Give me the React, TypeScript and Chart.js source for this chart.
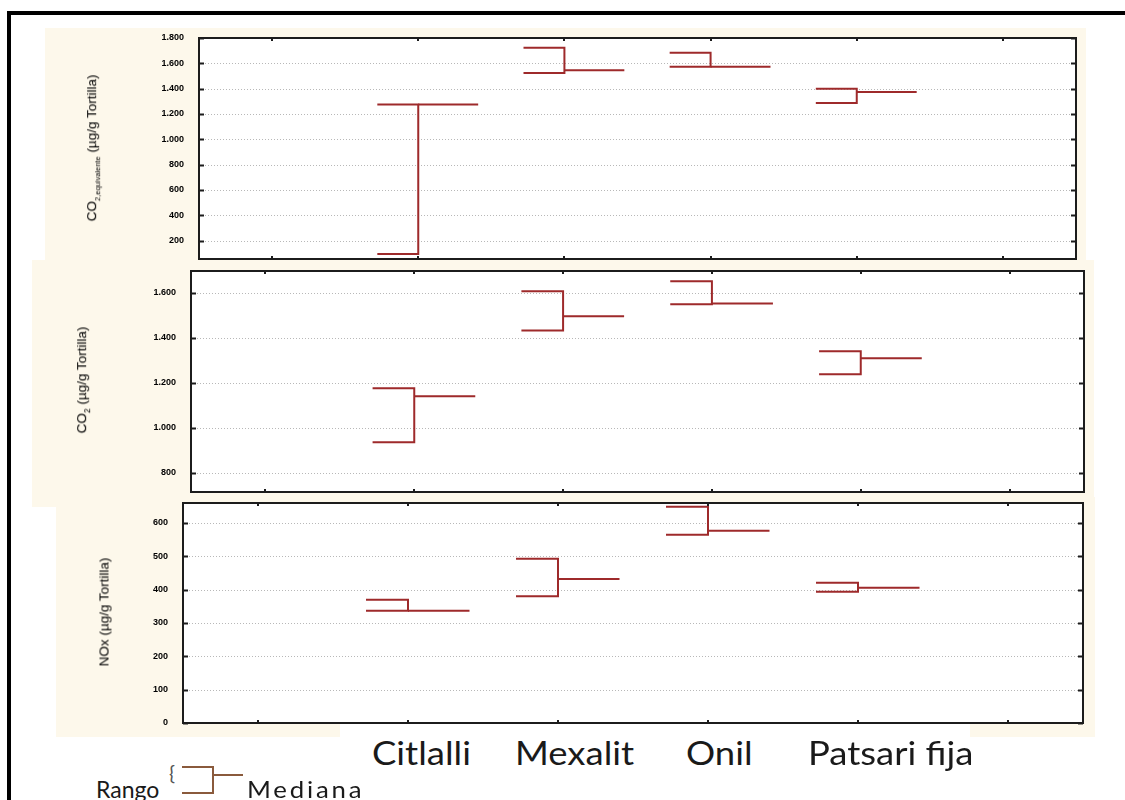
import React, { useEffect, useRef } from "react";
import { Chart, registerables } from "chart.js";

Chart.register(...registerables);

// Category slots along the x axis (first and last are empty, as in the source)
const slots = ["", "Citlalli", "Mexalit", "Onil", "Patsari fija", ""];
const groups = ["Citlalli", "Mexalit", "Onil", "Patsari fija"];

// Panel 1: CO2 equivalente (µg/g Tortilla)
const co2eqMin = [95, 1523, 1573, 1287];
const co2eqMax = [1274, 1723, 1683, 1400];
const co2eqMed = [1274, 1546, 1573, 1373];
const co2eqTicks = [200, 400, 600, 800, 1000, 1200, 1400, 1600, 1800];

// Panel 2: CO2 (µg/g Tortilla)
const co2Min = [935, 1432, 1548, 1237];
const co2Max = [1175, 1606, 1650, 1339];
const co2Med = [1139, 1495, 1552, 1308];
const co2Ticks = [800, 1000, 1200, 1400, 1600];

// Panel 3: NOx (µg/g Tortilla)
const noxMin = [337, 380, 565, 394];
const noxMax = [370, 493, 649, 421];
const noxMed = [337, 432, 577, 406];
const noxTicks = [0, 100, 200, 300, 400, 500, 600];

const RED = "#9e2a2b";
const RANGE_W = 0.28;
const MED_W = 0.41;

function fmt(v: number): string {
  if (v >= 1000) {
    return Math.floor(v / 1000) + "." + String(v % 1000).padStart(3, "0");
  }
  return String(v);
}

type PanelProps = {
  mins: number[];
  maxs: number[];
  meds: number[];
  ticks: number[];
  yMin: number;
  yMax: number;
  box: { l: number; t: number; w: number; h: number };
  axisW: number;
  pad: { top: number; right: number; bottom: number };
};

function Panel(p: PanelProps) {
  const ref = useRef<HTMLCanvasElement | null>(null);
  useEffect(() => {
    if (!ref.current) return;
    const rangePts: any[] = [];
    const medPts: any[] = [];
    groups.forEach((g, i) => {
      const x = slots.indexOf(g);
      rangePts.push(
        { x: x - RANGE_W, y: p.maxs[i] },
        { x, y: p.maxs[i] },
        { x, y: p.mins[i] },
        { x: x - RANGE_W, y: p.mins[i] },
        { x, y: null }
      );
      medPts.push({ x, y: p.meds[i] }, { x: x + MED_W, y: p.meds[i] }, { x, y: null });
    });

    const frame = {
      id: "frame",
      beforeDatasetsDraw(chart: any) {
        const { ctx, chartArea } = chart;
        const { left, right, top, bottom } = chartArea;
        const ys = chart.scales.y;
        ctx.save();
        ctx.fillStyle = "#ffffff";
        ctx.fillRect(left, top, right - left, bottom - top);
        ctx.strokeStyle = "#b8b8b8";
        ctx.lineWidth = 1;
        ctx.setLineDash([1, 2]);
        p.ticks.forEach((v) => {
          const py = Math.round(ys.getPixelForValue(v)) + 0.5;
          ctx.beginPath();
          ctx.moveTo(left, py);
          ctx.lineTo(right, py);
          ctx.stroke();
        });
        ctx.restore();
      },
      afterDraw(chart: any) {
        const { ctx, chartArea } = chart;
        const { left, right, top, bottom } = chartArea;
        const ys = chart.scales.y;
        const xs = chart.scales.x;
        ctx.save();
        ctx.setLineDash([]);
        ctx.strokeStyle = "#1c1c1c";
        ctx.lineWidth = 2;
        ctx.strokeRect(left, top, right - left, bottom - top);
        p.ticks.forEach((v) => {
          const py = Math.round(ys.getPixelForValue(v)) + 0.5;
          ctx.beginPath();
          ctx.moveTo(left, py);
          ctx.lineTo(left + 5, py);
          ctx.moveTo(right - 5, py);
          ctx.lineTo(right, py);
          ctx.stroke();
        });
        ctx.fillStyle = "#1c1c1c";
        slots.forEach((_, i) => {
          const px = Math.round(xs.getPixelForValue(i));
          ctx.fillRect(px - 1, top + 1, 2, 2);
          ctx.fillRect(px - 1, bottom - 3, 2, 2);
        });
        ctx.restore();
      },
    };

    const chart = new Chart(ref.current, {
      type: "line",
      data: {
        datasets: [
          {
            label: "Rango",
            data: rangePts,
            borderColor: RED,
            borderWidth: 2,
            pointRadius: 0,
            fill: false,
            tension: 0,
            spanGaps: false,
          },
          {
            label: "Mediana",
            data: medPts,
            borderColor: RED,
            borderWidth: 2,
            pointRadius: 0,
            fill: false,
            tension: 0,
            spanGaps: false,
          },
        ],
      },
      options: {
        animation: false,
        responsive: false,
        devicePixelRatio: 1,
        layout: { padding: { left: 0, top: p.pad.top, right: p.pad.right, bottom: p.pad.bottom } },
        plugins: { legend: { display: false }, tooltip: { enabled: false }, title: { display: false } },
        scales: {
          x: { type: "linear", min: -0.5, max: slots.length - 0.5, display: false },
          y: {
            type: "linear",
            min: p.yMin,
            max: p.yMax,
            afterBuildTicks: (s: any) => {
              s.ticks = p.ticks.map((v) => ({ value: v }));
            },
            afterFit: (s: any) => {
              s.width = p.axisW;
            },
            grid: {
              display: true,
              drawOnChartArea: false,
              drawTicks: true,
              tickLength: 15,
              tickColor: "rgba(0,0,0,0)",
              color: "rgba(0,0,0,0)",
            },
            border: { display: false },
            ticks: {
              callback: (v: any) => fmt(Number(v)),
              font: { family: "Liberation Sans", size: 9, weight: "bold" },
              color: "#000",
              padding: 0,
              autoSkip: false,
            },
          },
        },
      },
      plugins: [frame],
    } as any);
    return () => chart.destroy();
  }, []);
  return (
    <div
      style={{
        position: "absolute",
        left: p.box.l,
        top: p.box.t,
        width: p.box.w,
        height: p.box.h,
        background: "#fdf8eb",
      }}
    >
      <canvas ref={ref} width={p.box.w} height={p.box.h} style={{ display: "block" }} />
    </div>
  );
}

function YTitle({ cx, cy, children }: { cx: number; cy: number; children: any }) {
  return (
    <div
      style={{
        position: "absolute",
        left: cx,
        top: cy,
        transform: "translate(-50%, -50%) rotate(-90deg)",
        whiteSpace: "nowrap",
        fontFamily: "Liberation Sans, Arial, sans-serif",
        fontSize: 13.5,
        color: "#000",
      }}
    >
      {children}
    </div>
  );
}

const labelFont = "Lato, 'Open Sans', sans-serif";

export default function App() {
  const catLabels = [
    { t: "Citlalli", x: 372 },
    { t: "Mexalit", x: 515 },
    { t: "Onil", x: 686 },
    { t: "Patsari fija", x: 808 },
  ];
  return (
    <div
      style={{
        position: "absolute",
        left: 0,
        top: 0,
        width: 1125,
        height: 800,
        overflow: "hidden",
        background: "#fff",
      }}
    >
      <div
        style={{
          position: "absolute",
          left: 7,
          top: 11,
          width: 1200,
          height: 900,
          borderLeft: "4px solid #000",
          borderTop: "4px solid #000",
        }}
      />
      <Panel
        mins={co2eqMin}
        maxs={co2eqMax}
        meds={co2eqMed}
        ticks={co2eqTicks}
        yMin={55}
        yMax={1800}
        box={{ l: 45, t: 28, w: 1041, h: 240 }}
        axisW={154}
        pad={{ top: 10, right: 10, bottom: 9 }}
      />
      <YTitle cx={93} cy={148}>
        CO<sub style={{ fontSize: 7.5 }}>2,equivalente</sub> (µg/g Tortilla)
      </YTitle>
      <Panel
        mins={co2Min}
        maxs={co2Max}
        meds={co2Med}
        ticks={co2Ticks}
        yMin={714}
        yMax={1696}
        box={{ l: 32, t: 260, w: 1062, h: 247 }}
        axisW={159}
        pad={{ top: 11, right: 10, bottom: 15 }}
      />
      <YTitle cx={83} cy={380}>
        CO<sub style={{ fontSize: 8.5 }}>2</sub> (µg/g Tortilla)
      </YTitle>
      <Panel
        mins={noxMin}
        maxs={noxMax}
        meds={noxMed}
        ticks={noxTicks}
        yMin={0}
        yMax={660}
        box={{ l: 56, t: 497, w: 1039, h: 240 }}
        axisW={127}
        pad={{ top: 6, right: 12, bottom: 14 }}
      />
      <YTitle cx={104} cy={612}>
        NOx (µg/g Tortilla)
      </YTitle>
      <div style={{ position: "absolute", left: 340, top: 724, width: 630, height: 60, background: "#fff" }} />
      {catLabels.map((c) => (
        <div
          key={c.t}
          style={{
            position: "absolute",
            left: c.x,
            top: 736,
            fontFamily: labelFont,
            fontSize: 32,
            lineHeight: "34px",
            color: "#1a1a1a",
            whiteSpace: "nowrap",
            transform: "scaleX(1.14)",
            transformOrigin: "0 0",
          }}
        >
          {c.t}
        </div>
      ))}
      {/* legend */}
      <div
        style={{
          position: "absolute",
          left: 96,
          top: 775,
          fontFamily: labelFont,
          fontSize: 23,
          lineHeight: "28px",
          color: "#1a1a1a",
        }}
      >
        Rango
      </div>
      <div
        style={{
          position: "absolute",
          left: 169,
          top: 760,
          fontFamily: labelFont,
          fontSize: 20,
          color: "#555",
        }}
      >
        {"{"}
      </div>
      <div
        style={{
          position: "absolute",
          left: 182,
          top: 766,
          width: 30,
          height: 24,
          borderTop: "2px solid #8a5a3c",
          borderBottom: "2px solid #8a5a3c",
          borderRight: "2px solid #8a5a3c",
        }}
      />
      <div style={{ position: "absolute", left: 214, top: 774, width: 29, height: 2, background: "#8a5a3c" }} />
      <div
        style={{
          position: "absolute",
          left: 247,
          top: 775,
          fontFamily: labelFont,
          fontSize: 23,
          lineHeight: "28px",
          color: "#1a1a1a",
          letterSpacing: 2.5,
          whiteSpace: "nowrap",
          transform: "scaleX(1.12)",
          transformOrigin: "0 0",
        }}
      >
        Mediana
      </div>
    </div>
  );
}
